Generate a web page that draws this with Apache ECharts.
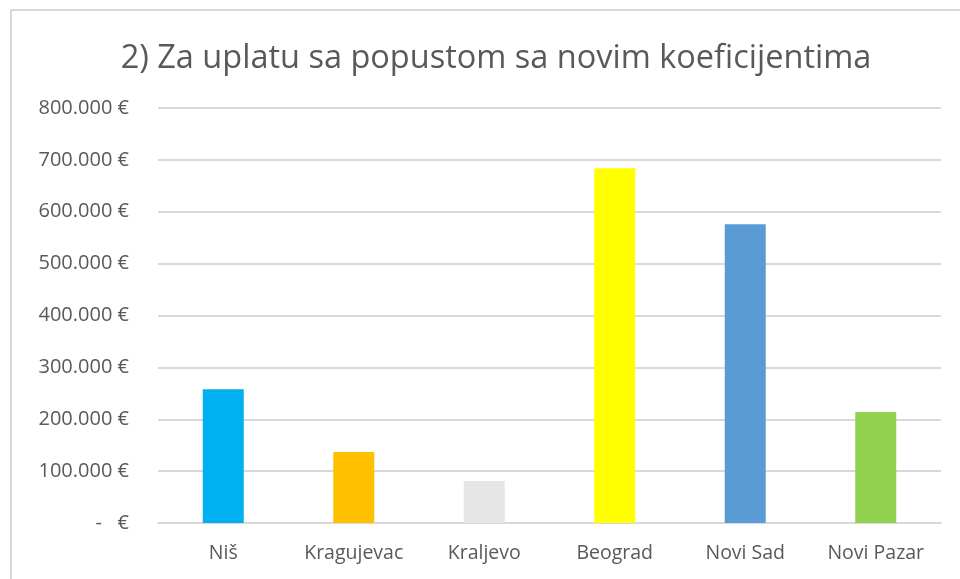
<!DOCTYPE html>
<html>
<head>
<meta charset="utf-8">
<script src="https://cdn.jsdelivr.net/npm/echarts@6/dist/echarts.min.js"></script>
<style>
  html, body { margin: 0; padding: 0; background: #fff; }
  #chart { width: 960px; height: 579px; }
</style>
</head>
<body>
<div id="chart"></div>
<script>
var cities = ['Niš', 'Kragujevac', 'Kraljevo', 'Beograd', 'Novi Sad', 'Novi Pazar'];
var amounts = [258000, 137000, 81000, 684000, 576000, 214000];
var barColors = ['#00B0F0', '#FFC000', '#E7E6E6', '#FFFF00', '#5B9BD5', '#92D050'];
var yMax = 800000;
var yStep = 100000;

function euro(v) {
  if (v === 0) return '-   €';
  return String(v).replace(/\B(?=(\d{3})+(?!\d))/g, '.') + ' €';
}

var chart = echarts.init(document.getElementById('chart'));
var option = {
  animation: false,
  textStyle: { fontFamily: 'Open Sans' },
  graphic: [{
    type: 'rect',
    shape: { x: 11, y: 10, width: 960, height: 580 },
    style: { fill: 'none', stroke: '#d9d9d9', lineWidth: 2 },
    silent: true
  }],
  title: {
    text: '2) Za uplatu sa popustom sa novim koeficijentima',
    left: 491,
    textAlign: 'center',
    top: 37,
    textStyle: { fontSize: 32.5, fontWeight: 'normal', color: '#595959', fontFamily: 'Open Sans' }
  },
  grid: { left: 158, right: 19, top: 108, bottom: 56 },
  xAxis: {
    type: 'category',
    data: cities,
    axisLine: { lineStyle: { color: '#d9d9d9', width: 2 } },
    axisTick: { show: false },
    axisLabel: { color: '#595959', fontSize: 19.5, margin: 20, interval: 0, hideOverlap: false }
  },
  yAxis: {
    type: 'value',
    min: 0,
    max: yMax,
    interval: yStep,
    axisLine: { show: false },
    axisTick: { show: false },
    splitLine: { lineStyle: { color: '#d9d9d9', width: 2 } },
    axisLabel: { color: '#595959', fontSize: 20, margin: 29, formatter: euro }
  },
  series: [{
    type: 'bar',
    barWidth: 41,
    data: amounts.map(function (v, i) {
      return { value: v, itemStyle: { color: barColors[i] } };
    })
  }]
};
chart.setOption(option);
</script>
</body>
</html>
